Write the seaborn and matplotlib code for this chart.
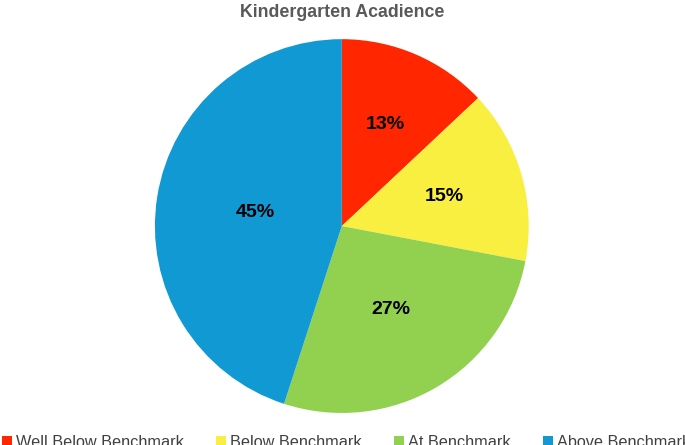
import matplotlib
matplotlib.use("Agg")
import matplotlib.pyplot as plt
import numpy as np
import seaborn as sns
from matplotlib.patches import Patch

sns.set_theme(style="white")
plt.rcParams['font.family'] = ['Liberation Sans', 'DejaVu Sans']

categories = ["Well Below Benchmark", "Below Benchmark", "At Benchmark", "Above Benchmark"]
values = [13, 15, 27, 45]
colors = ["#FF2600", "#F8EF41", "#92D050", "#1199D4"]
title = "Kindergarten Acadience"

label_dist = [0.59, 0.57, 0.52, 0.47]

fig = plt.figure(figsize=(6.85, 4.45), dpi=100)
fig.patch.set_facecolor("white")
ax = fig.add_axes([0.226, 0.072, 0.546, 0.840])
wedges, texts, autotexts = ax.pie(values, colors=colors, startangle=90, counterclock=False,
                                  autopct="%d%%", pctdistance=0.56,
                                  wedgeprops=dict(linewidth=0),
                                  textprops=dict(fontsize=14, fontweight="bold", color="black"))
for w, t, d in zip(wedges, autotexts, label_dist):
    ang = np.deg2rad((w.theta1 + w.theta2) / 2)
    t.set_position((d * np.cos(ang), d * np.sin(ang)))
ax.set_xlim(-1, 1)
ax.set_ylim(-1, 1)
ax.set_aspect("equal")
fig.text(0.5, 0.972, title, ha="center", va="center", fontsize=12.8, fontweight="bold", color="#595959")

handles = [Patch(facecolor=c, edgecolor="none") for c in colors]
fig.legend(handles, categories, loc="lower left", bbox_to_anchor=(0.003, -0.012), ncol=4,
           frameon=False, fontsize=11.7, handlelength=0.6, handleheight=0.6, handletextpad=0.25,
           columnspacing=2.0, borderpad=0, borderaxespad=0, labelcolor="#404040")
fig.savefig("out.png", dpi=100)
